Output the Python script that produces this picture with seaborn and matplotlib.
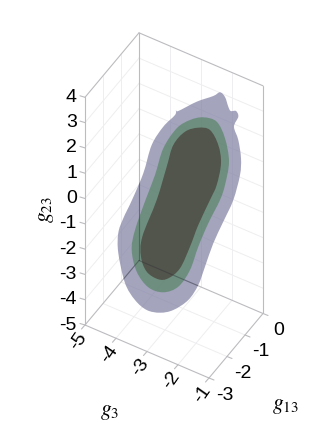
import numpy as np
import matplotlib
matplotlib.use("Agg")
import matplotlib.pyplot as plt
from matplotlib.path import Path
from matplotlib.patches import PathPatch
import seaborn as sns

g3_ticks = [-5, -4, -3, -2, -1]
g13_ticks = [-3, -2, -1, 0]
g23_ticks = [-5, -4, -3, -2, -1, 0, 1, 2, 3, 4]

# region outlines (as seen in the projected view)
outer_x = [220, 225, 228.3, 230.7, 236, 238.3, 234, 238.3, 241, 240, 233.3, 223.3, 213.3, 205, 198.3, 188.3, 173.3,
           160, 146.7, 135, 125, 118.3, 118.3, 123.3, 132, 143.3, 151.7, 163.3, 175, 176, 178.3, 196.7, 213.3]
outer_y = [92.3, 97, 106.7, 111, 111, 116.7, 126.7, 140, 158.3, 175, 200, 221.7, 243.3, 266.7, 285, 300, 310,
           312.7, 310, 300, 283, 253, 233, 218.3, 200, 173.3, 145, 126.7, 115, 110, 111, 101.7, 96]
green_x = [203.3, 216.7, 225, 229, 225, 220, 208.3, 198.3, 190, 178.3, 163.3, 148.3, 136.7, 131.7, 135, 145.5, 155,
           163.3, 176.7, 190]
green_y = [117.3, 121.7, 138.3, 161.7, 185, 200, 223.3, 246.7, 270, 286.7, 292.3, 287.3, 271.7, 250, 230, 200, 175,
           148.3, 128.3, 120]
dark_x = [198.3, 210, 218.3, 221, 216.7, 210, 198.3, 190, 180, 168.3, 158.3, 146.7, 141, 142.3, 156.7, 166.7, 173.3,
          185]
dark_y = [127.7, 130, 145, 163.3, 185, 200, 225, 246.7, 268.3, 278.3, 279.3, 271.7, 256.7, 236.7, 200, 166.7, 145,
          131.7]

EDGE = "#bcbcc0"
GRID = "#eeeef0"
FONT = ["Liberation Sans", "DejaVu Sans"]


def proj(g3, g13, g23):
    # oblique view: where a (g3, g13, g23) point lands on the page
    x = 85 + 31.0 * (g3 + 5) + 18.0 * (g13 + 3)
    y = 325 + 13.25 * (g3 + 5) - 21.5 * (g13 + 3) - 25.3 * (g23 + 5)
    return x, y


def seg(ax, p0, p1, color, lw, **kw):
    a, b = proj(*p0), proj(*p1)
    n = len(ax.lines)
    sns.lineplot(x=[a[0], b[0]], y=[a[1], b[1]], sort=False, estimator=None,
                 color=color, linewidth=lw, ax=ax, legend=False, **kw)
    return ax.lines[n]


def smooth_region(ax, xs, ys, **kw):
    # closed bezier through the outline points
    pts = np.column_stack([xs, ys]).astype(float)
    n = len(pts)
    verts = [pts[0]]
    codes = [Path.MOVETO]
    for i in range(n):
        p0, p1, p2, p3 = pts[i - 1], pts[i], pts[(i + 1) % n], pts[(i + 2) % n]
        verts += [p1 + (p2 - p0) / 6, p2 - (p3 - p1) / 6, p2]
        codes += [Path.CURVE4] * 3
    patch = PathPatch(Path(verts, codes), lw=0, **kw)
    ax.add_patch(patch)
    return patch


sns.set_theme(style="white")
plt.rcParams["font.family"] = FONT
plt.rcParams["mathtext.fontset"] = "stix"

fig = plt.figure(figsize=(3.36, 4.23), dpi=100)
ax = fig.add_axes([0, 0, 1, 1])

# grid on the floor and the two back walls
for v in g3_ticks[1:-1]:
    seg(ax, (v, -3, -5), (v, 0, -5), GRID, 0.7)
    seg(ax, (v, 0, -5), (v, 0, 4), GRID, 0.7)
for v in g13_ticks[1:-1]:
    seg(ax, (-5, v, -5), (-1, v, -5), GRID, 0.7)
    seg(ax, (-5, v, -5), (-5, v, 4), GRID, 0.7)
for v in g23_ticks[1:-1]:
    seg(ax, (-5, -3, v), (-5, 0, v), GRID, 0.7)
    seg(ax, (-5, 0, v), (-1, 0, v), GRID, 0.7)

# box edges
back_edges = [((-5, 0, -5), (-5, 0, 4)), ((-5, 0, -5), (-5, -3, -5)), ((-5, 0, -5), (-1, 0, -5))]
for p0, p1 in back_edges:
    seg(ax, p0, p1, EDGE, 0.8)
seg(ax, (-5, -3, 4), (-5, 0, 4), EDGE, 0.8)
seg(ax, (-5, 0, 4), (-1, 0, 4), EDGE, 0.8)
seg(ax, (-1, 0, -5), (-1, 0, 4), EDGE, 0.8)
seg(ax, (-5, -3, -5), (-5, -3, 4), EDGE, 0.8)
seg(ax, (-5, -3, -5), (-1, -3, -5), EDGE, 0.8)
seg(ax, (-1, -3, -5), (-1, 0, -5), EDGE, 0.8)

# nested regions, translucent so the box shows through
outer = smooth_region(ax, outer_x, outer_y, facecolor="#7e7ea2", alpha=0.7, zorder=3)
smooth_region(ax, green_x, green_y, facecolor="#5c886b", alpha=0.75, zorder=4)
smooth_region(ax, dark_x, dark_y, facecolor="#4e4b43", alpha=0.85, zorder=5)

# back edges read darker where they pass behind the regions
for p0, p1 in back_edges:
    line = seg(ax, p0, p1, "#303038", 0.8, alpha=0.4, zorder=6)
    line.set_clip_path(outer)

# ticks and labels
for v in g23_ticks:
    x, y = proj(-5, -3, v)
    ax.plot([x, x - 5], [y, y - 1.5], color=EDGE, lw=0.8)
    ax.text(x - 8, y, str(v), ha="right", va="center", fontsize=14, color="black")
for v in g3_ticks:
    x, y = proj(v, -3, -5)
    ax.plot([x, x - 3.5], [y, y + 4], color=EDGE, lw=0.8)
    ax.text(x - 7, y + 16, str(v), ha="center", va="center", rotation=55, fontsize=14, color="black")
for v in g13_ticks:
    x, y = proj(-1, v, -5)
    ax.plot([x, x + 5], [y, y + 2], color=EDGE, lw=0.8)
    ax.text(x + 16, y + 17, str(v), ha="center", va="center", fontsize=14, color="black")

ax.text(110, 411, r"$g_3$", ha="center", va="center", fontsize=15.5, color="black")
ax.text(285, 406, r"$g_{13}$", ha="center", va="center", fontsize=15.5, color="black")
ax.text(46, 210, r"$g_{23}$", ha="center", va="center", rotation=90, fontsize=15.5, color="black")

ax.set_xlim(0, 336)
ax.set_ylim(423, 0)
ax.axis("off")
fig.savefig("out.png", dpi=100)
